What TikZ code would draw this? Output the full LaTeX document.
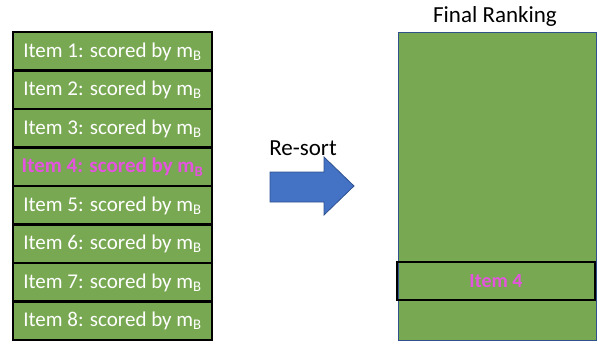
\documentclass[tikz,border=0pt]{standalone}
\usepackage{fontspec}
\setmainfont{Carlito}[BoldFont={Carlito Bold}]
\definecolor{itemgreen}{RGB}{120,168,82}
\definecolor{pick}{RGB}{228,84,222}
\definecolor{arrowblue}{RGB}{68,114,196}
\definecolor{arrowedge}{RGB}{47,82,143}
\begin{document}
\begin{tikzpicture}[x=1pt,y=-1pt,
  itembox/.style={draw=black,line width=2.2pt,fill=itemgreen,minimum width=199pt,minimum height=38.5pt,
    inner sep=0pt},
  itemtext/.style={text=white,font=\fontsize{21}{24}\selectfont},
  picked/.style={text=pick,font=\fontsize{21}{24}\selectfont\bfseries},
  label/.style={font=\fontsize{23}{26}\selectfont}]
\useasboundingbox (0,0) rectangle (598,346);
% candidate list, each item scored by the second model
\foreach \i in {1,...,8}{
  \node[itembox] (it\i) at (112.5,{32+38.5*(\i-0.5)}) {};
}
\foreach \i in {1,2,3,5,6,7,8}{
  \node[itemtext] (t\i) at ([yshift=-0.5pt]it\i) {Item \i: scored by m\textsubscript{B}};
}
\node[picked] (t4) at ([yshift=-0.5pt]it4) {Item 4: scored by m\textsubscript{B}};
% re-sort arrow
\node[label] (resort) at (303,148) {Re-sort};
\draw[fill=arrowblue,draw=arrowedge,line width=0.8pt]
  (270,172) -- (324,172) -- (324,157) -- (354,186) -- (324,215) -- (324,202) -- (270,202) -- cycle;
% final ranking
\node[draw=arrowedge,line width=0.8pt,fill=itemgreen,minimum width=198pt,minimum height=308pt,inner sep=0pt,anchor=north west] (rank) at (398,32) {};
\node[label] (title) at (495,16) {Final Ranking};
\node[draw=black,line width=2.2pt,minimum width=198pt,minimum height=38pt,inner sep=0pt] (pos4) at (496,281) {};
\node[picked,font=\fontsize{20}{23}\selectfont\bfseries] (t4b) at (pos4) {Item 4};
\end{tikzpicture}
\end{document}
